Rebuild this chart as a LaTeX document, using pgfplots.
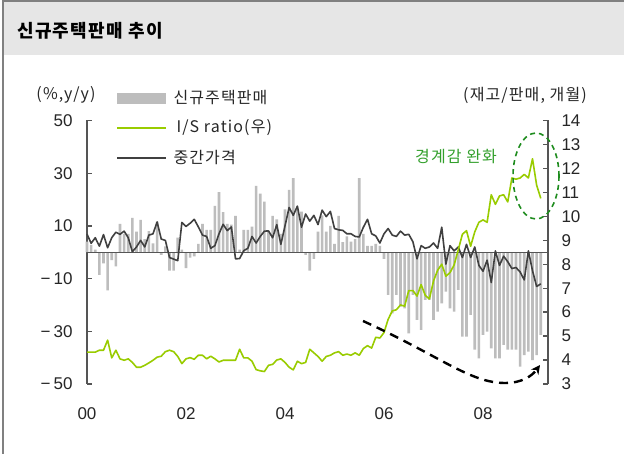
\documentclass[border=0pt]{standalone}
\usepackage{pgfplots}
\pgfplotsset{compat=1.18}
\usepackage{pgfplotstable}
\usepackage{fontspec}
\setmainfont{Liberation Sans}
\newfontfamily\kr[LetterSpace=7]{Noto Sans CJK KR}
\usetikzlibrary{arrows.meta}

\definecolor{barc}{HTML}{BDBDBD}
\definecolor{isg}{HTML}{99CC00}
\definecolor{prc}{HTML}{404040}
\definecolor{axc}{HTML}{555555}
\definecolor{annog}{HTML}{33A02C}
\definecolor{ellg}{HTML}{1E8C1E}
\definecolor{hdr}{HTML}{E6E6E6}

\pgfplotstableread{
i bar price is
0 4 6.9 4.33
1 2.8 3.4 4.33
2 1 5.5 4.33
3 -8.6 2.3 4.41
4 -4.2 6.7 4.41
5 -14.5 1.7 4.83
6 -3 5.5 4.09
7 -5.4 7.6 4.41
8 10.8 6.8 4.05
9 7 8.0 3.99
10 7 5.5 4.05
11 13 0.2 3.9
12 7.8 2.0 3.7
13 12.3 4.5 3.7
14 5 2.0 3.78
15 8 6.5 3.88
16 3.4 7.0 3.99
17 11.6 11.5 4.12
18 -1 5.0 4.16
19 2.2 4.5 4.35
20 -7 -2.0 4.41
21 -7 -2.6 4.35
22 5.5 -3.2 4.15
23 1 11.3 3.85
24 -6 9.8 4.05
25 -2 11.0 4.1
26 -1.6 12.5 4.03
27 3.2 9.6 4.2
28 10.8 6.5 4.2
29 8.5 6.0 4.05
30 8.5 1.5 4.16
31 17.6 2.5 4.05
32 22.8 7.0 3.92
33 15.2 10.6 3.99
34 10.8 8.2 3.99
35 10.5 9.6 3.99
36 13.8 -2.5 3.99
37 1 -2.4 4.45
38 8.5 0.6 4.09
39 8.5 1.5 4.09
40 9.7 6.0 3.95
41 25.2 3.5 3.6
42 22.2 6.0 3.55
43 19.2 8.0 3.52
44 8 8.1 3.78
45 13.8 5.5 3.82
46 12.5 10.5 4.0
47 7 3.0 4.05
48 16.3 10.0 3.9
49 23.7 17.0 3.7
50 28.1 14.0 3.59
51 16 17.5 3.95
52 15.4 9.5 3.85
53 -1 14.5 3.9
54 -7 11.8 4.45
55 -2.5 14.0 4.3
56 7.8 10.5 4.15
57 14 16.0 3.95
58 7.8 13.5 4.15
59 10 15.5 4.2
60 3.2 9.0 4.3
61 13.8 8.5 4.35
62 3.8 8.3 4.2
63 6 7.0 4.25
64 4 7.0 4.2
65 5 6.0 4.3
66 28.1 5.8 4.2
67 7 9.5 4.48
68 2.4 12.5 4.6
69 2.4 7.0 4.5
70 3.2 6.2 4.95
71 2.4 3.5 4.92
72 -2.5 7.0 5.15
73 -16.2 9.0 5.7
74 -23.2 6.5 6.05
75 -16.2 6.0 6.1
76 -20.6 8.0 6.3
77 -21.3 6.5 6.25
78 -30.8 6.8 6.9
79 -16.2 4.0 6.9
80 -25.7 -2.5 6.67
81 -29.5 2.5 7.15
82 -18.1 1.5 6.7
83 -18.1 2.0 6.55
84 -25.7 3.5 7.3
85 -22.5 1.5 7.75
86 -19.4 9.5 8.0
87 -14.9 -4.5 7.5
88 -21.3 2.5 7.65
89 -22.5 0.5 7.97
90 -14.3 2.0 8.6
91 -32 -2.0 9.25
92 -32 3.0 9.4
93 -23.8 -2.0 8.75
94 -37 2.0 9.35
95 -40.3 -5.0 9.75
96 -31.4 -7.2 9.85
97 -30.1 -3.0 9.75
98 -36.5 -11.5 10.9
99 -40.3 0.5 10.5
100 -40.3 -5.0 10.85
101 -35.2 -1.5 10.9
102 -37 -3.6 10.6
103 -37 -6.2 11.6
104 -37 -5.8 11.55
105 -43.4 -7.5 11.6
106 -39 -10.5 11.75
107 -37.7 0.5 11.6
108 -40.9 -7.0 12.4
109 -39 -13.0 11.3
110 -31.4 -12.0 10.75
}\datatab

\begin{document}
\begin{tikzpicture}[x=1pt,y=1pt]
\useasboundingbox (0,0) rectangle (624,454);
\fill[white] (0,0) rectangle (624,454);
\fill[hdr] (3,399) rectangle (624,452);
\draw[gray, line width=2pt] (3,0) -- (3,453) -- (624,453);
\node[anchor=west, inner sep=0pt, font=\kr\bfseries\fontsize{18}{20}\selectfont] at (17,423) {신규주택판매 추이};

\begin{axis}[
  at={(87pt,70pt)}, anchor=south west, scale only axis,
  width=461pt, height=263.5pt,
  xmin=0, xmax=9.313, ymin=-50, ymax=50,
  axis y line*=left, axis x line*=bottom,
  x axis line style={draw=none},
  y axis line style={draw=axc, line width=1.3pt},
  xtick={0,2,4,6,8}, xticklabels={00,02,04,06,08},
  xtick style={draw=none},
  ytick={-50,-30,-10,10,30,50},
  yticklabels={{−\hspace{3pt}50},{−\hspace{3pt}30},{−\hspace{3pt}10},10,30,50},
  ytick style={draw=axc, line width=1.3pt},
  tick align=inside, major tick length=5pt,
  ticklabel style={font=\fontsize{17}{19}\selectfont, text=black!85},
  yticklabel style={xshift=-11pt},
  xticklabel style={yshift=-20pt},
  clip=false,
]
\addplot[ybar, bar width=2.6pt, bar shift=0pt, fill=barc, draw=none] table[x expr=\thisrow{i}/12, y=bar] {\datatab};
\addplot[axc, line width=1.2pt] coordinates {(0,0) (9.313,0)};
\addplot[prc, line width=1.6pt, line join=round] table[x expr=\thisrow{i}/12, y=price] {\datatab};
\end{axis}

\begin{axis}[
  at={(87pt,70pt)}, anchor=south west, scale only axis,
  width=461pt, height=263.5pt,
  xmin=0, xmax=9.313, ymin=3, ymax=14,
  axis y line*=right, axis x line=none,
  y axis line style={draw=axc, line width=1.3pt},
  ytick={3,4,...,14},
  ytick style={draw=axc, line width=1.3pt},
  tick align=inside, major tick length=5pt,
  /pgf/number format/assume math mode=true,
  ticklabel style={font=\fontsize{17}{19}\selectfont, text=black!85},
  yticklabel style={xshift=10pt},
]
\addplot[isg, line width=1.6pt, line join=round] table[x expr=\thisrow{i}/12, y=is] {\datatab};
\end{axis}

% axis titles
\node[font=\kr\fontsize{16}{18}\selectfont, text=black!85] at (66,359) {(\%,y/y)};
\node[font=\kr\fontsize{16}{18}\selectfont, text=black!85] at (525,359) {(재고/판매, 개월)};

% legend
\fill[barc] (117,350) rectangle (166,361);
\node[anchor=west, font=\kr\fontsize{16}{18}\selectfont, text=black!85] at (170,356) {신규주택판매};
\draw[isg, line width=1.6pt] (117,326) -- (166,326);
\node[anchor=west, font=\kr\fontsize{16}{18}\selectfont, text=black!85] at (173,326) {I/S ratio(우)};
\draw[prc, line width=1.6pt] (117,296) -- (166,296);
\node[anchor=west, font=\kr\fontsize{16}{18}\selectfont, text=black!85] at (170,296) {중간가격};

% annotations
\node[font=\kr\fontsize{16}{18}\selectfont, text=annog] at (456,297) {경계감 완화};
\draw[ellg, line width=1.6pt, dash pattern=on 5pt off 4pt] (536,278) ellipse [x radius=23, y radius=43];
\draw[black, line width=2.4pt, dash pattern=on 9pt off 6pt, -{Stealth[length=9pt,width=9pt]}]
  (363,133) .. controls (440,98) and (470,71) .. (505,71) .. controls (522,71) and (532,78) .. (540,89);
\end{tikzpicture}
\end{document}
